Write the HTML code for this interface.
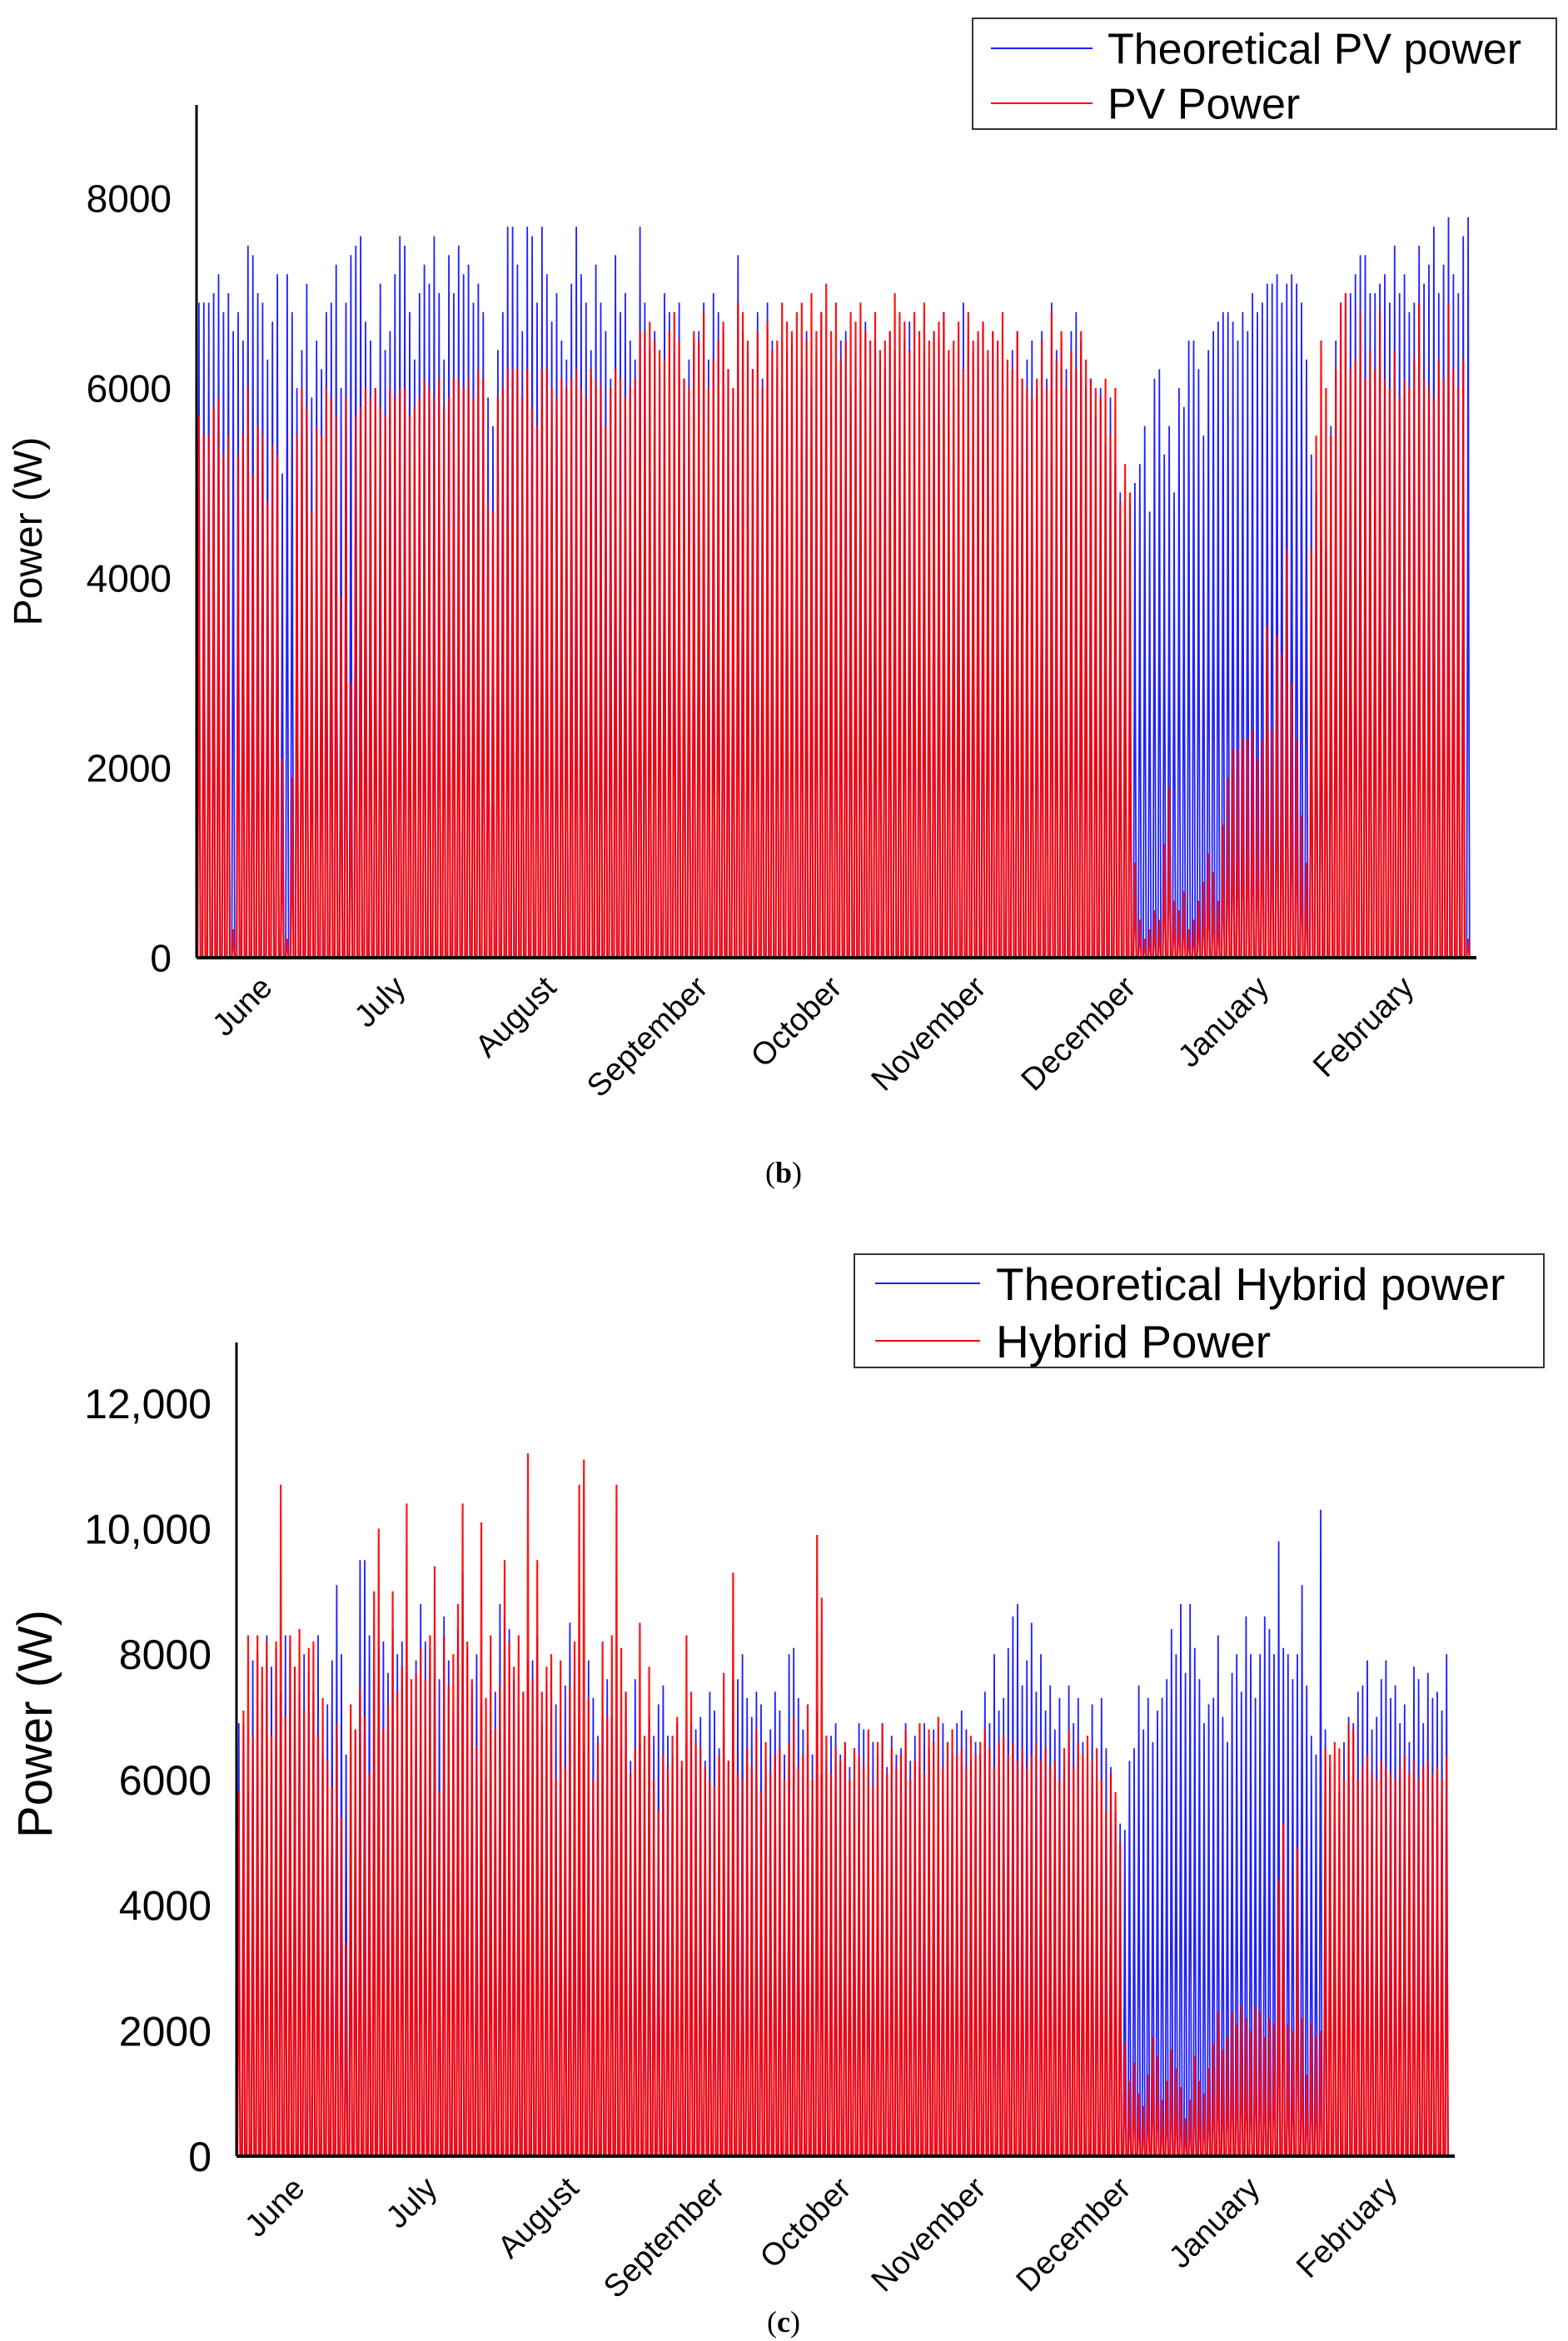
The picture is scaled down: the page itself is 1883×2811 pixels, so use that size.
<!DOCTYPE html>
<html><head><meta charset="utf-8"><style>
html,body{margin:0;padding:0;background:#fff;}
svg{display:block;font-family:"Liberation Sans",sans-serif;}
</style></head><body>
<svg id="fig" width="1883" height="2811" viewBox="0 0 1883 2811" xmlns="http://www.w3.org/2000/svg">
<g id="chartB"></g>
<text x="941" y="1420" font-family="Liberation Serif,serif" font-size="36" text-anchor="middle">(<tspan font-weight="bold">b</tspan>)</text>
<g id="chartC"></g>
<text x="941" y="2800" font-family="Liberation Serif,serif" font-size="36" text-anchor="middle">(<tspan font-weight="bold">c</tspan>)</text>
</svg>
<script>
const months = ["June","July","August","September","October","November","December","January","February"];
const ticksB = [0,2000,4000,6000,8000];
const ticksC = [0,2000,4000,6000,8000,10000,12000];
const tickLabelsC = ["0","2000","4000","6000","8000","10,000","12,000"];
// daily peak power, kW
const theoreticalPV = [
6.9,6.9,6.9,7.0,7.2,6.8,7.0,6.6,6.8,6.5,7.5,7.4,7.0,6.9,6.3,6.7,7.2,5.1,7.2,6.8,
6.0,6.4,7.1,5.9,6.5,6.2,6.8,6.9,7.3,6.0,6.9,7.4,7.5,7.6,6.7,6.5,6.0,7.1,6.4,6.6,
7.2,7.6,7.5,6.8,6.3,7.0,7.3,7.1,7.6,7.0,6.3,7.4,7.0,7.5,7.2,7.3,6.9,7.1,6.8,5.9,
5.6,6.4,6.8,7.7,7.7,7.3,6.6,7.7,7.6,6.9,7.7,7.2,6.7,7.0,6.5,6.3,7.1,7.7,7.2,6.9,
6.4,7.3,6.9,6.6,6.1,7.4,6.8,7.0,6.5,6.3,7.7,6.9,6.4,6.6,6.2,7.0,6.8,6.4,6.9,6.1,
6.3,6.5,6.6,6.9,6.3,7.0,6.8,6.6,6.2,6.0,7.4,6.6,6.4,6.2,6.8,6.1,6.9,6.5,6.2,6.0,
6.4,6.5,6.3,6.2,6.6,6.0,6.4,6.8,6.3,5.9,6.2,6.5,6.6,6.0,6.4,6.1,6.7,6.0,6.5,6.3,
6.2,6.6,6.4,6.1,6.5,6.7,6.3,6.0,6.4,6.2,6.6,6.5,6.8,6.3,6.0,6.6,6.9,6.6,6.4,6.5,
6.7,6.3,6.6,6.5,6.2,6.0,6.4,6.6,6.1,6.3,6.5,6.0,6.6,6.1,6.9,6.4,6.5,6.2,6.6,6.8,
6.5,6.0,6.1,5.7,6.0,5.4,5.9,5.2,4.9,4.6,4.8,5.0,5.2,5.6,4.7,6.1,6.2,5.3,5.6,4.9,
6.0,5.8,6.5,6.5,6.2,5.5,6.4,6.6,6.7,6.8,6.8,6.7,6.5,6.8,6.6,7.0,6.8,6.9,7.1,7.1,
7.2,6.9,7.1,7.2,7.1,6.9,6.3,5.3,4.9,4.4,4.3,5.6,6.5,6.9,7.0,7.0,7.2,7.4,7.4,7.0,
7.0,7.1,7.2,6.9,7.5,7.0,7.2,6.8,6.9,7.5,7.1,7.3,7.7,7.0,7.3,7.8,7.2,7.0,7.6,7.8];
const actualPV = [
5.7,5.5,5.5,5.8,5.9,5.3,5.5,0.3,5.3,5.5,6.0,5.1,5.6,5.5,4.8,5.4,5.3,2.1,0.2,1.9,
5.5,6.0,5.8,4.7,5.6,5.5,6.0,5.9,5.7,3.8,5.9,2.9,5.7,5.8,6.0,5.9,6.0,5.8,5.7,6.0,
5.9,6.0,6.0,5.7,5.8,5.9,6.1,6.0,5.9,6.1,5.8,5.9,6.1,6.1,6.0,6.1,5.9,6.2,6.1,4.8,
4.7,5.9,6.0,6.2,6.2,6.2,5.9,6.2,5.8,5.6,6.2,6.2,6.0,5.9,6.1,6.0,6.1,6.2,6.0,5.9,
6.2,6.1,6.0,5.6,6.0,6.2,6.1,5.9,6.0,6.1,6.6,6.6,6.7,6.5,6.4,6.3,6.6,6.8,6.5,6.1,
6.0,6.6,6.5,6.8,6.0,6.3,6.5,6.7,6.2,6.0,6.9,6.8,6.5,6.2,6.6,6.0,6.7,6.4,6.5,6.9,
6.7,6.6,6.8,6.9,6.5,7.0,6.6,6.8,7.1,6.6,6.9,6.3,6.5,6.8,6.7,6.9,6.6,6.5,6.8,6.4,
6.5,6.6,7.0,6.8,6.7,6.4,6.8,6.6,6.9,6.5,6.6,6.7,6.8,6.4,6.5,6.7,6.2,6.8,6.5,6.6,
6.7,6.4,6.6,6.5,6.8,6.3,6.2,6.6,6.1,6.0,5.9,6.1,6.5,6.0,6.8,6.3,6.6,6.0,6.4,6.2,
6.6,6.3,6.1,6.0,5.9,6.1,5.5,6.0,4.8,5.2,4.9,1.0,0.4,0.2,0.3,0.5,0.4,1.2,1.8,0.6,
0.5,0.7,0.3,0.4,0.6,0.8,1.1,0.9,0.6,1.4,1.9,2.2,2.2,2.3,2.3,2.4,2.1,2.3,3.5,2.4,
3.4,3.2,4.3,2.9,2.3,1.5,1.0,4.3,5.5,6.5,6.0,5.5,6.2,6.9,7.0,6.2,6.3,6.8,6.1,6.4,
6.2,6.8,6.1,6.0,6.4,5.9,6.1,6.0,6.3,6.9,6.1,6.0,5.9,6.3,6.1,6.9,6.2,6.0,6.3,0.2];
const theoreticalHybrid = [
6.9,6.9,5.8,7.9,8.0,7.3,8.3,7.8,8.1,7.4,8.3,8.2,7.8,7.4,8.0,7.7,7.4,8.3,6.4,7.2,
7.9,9.1,8.0,6.4,6.8,6.8,9.5,9.5,8.3,7.7,8.1,8.2,7.7,8.4,8.0,8.2,7.7,7.2,7.9,8.8,
8.2,8.1,7.7,7.6,8.6,7.9,7.1,8.4,9.3,8.1,7.5,8.0,7.2,6.0,6.8,7.4,8.8,8.6,8.4,7.6,
7.1,7.4,7.9,7.9,8.3,6.9,7.5,7.7,7.2,6.7,7.5,8.5,7.8,7.0,6.5,7.9,7.3,6.7,7.0,7.6,
7.0,6.9,6.5,7.4,6.3,7.6,6.6,6.2,7.0,6.7,7.2,7.5,6.7,6.4,6.9,6.2,6.6,6.9,6.8,7.0,
6.3,7.4,7.1,6.5,6.8,6.3,7.6,7.6,8.0,7.3,7.0,7.4,7.2,6.3,6.8,7.4,7.1,6.4,8.0,8.1,
7.3,6.8,6.6,6.4,7.1,6.1,6.3,6.7,6.9,6.4,6.6,6.2,6.5,6.9,6.8,6.0,6.6,6.4,6.9,6.2,
6.7,6.4,6.5,6.9,6.3,6.7,6.2,6.9,6.5,6.8,6.3,6.9,6.6,6.4,6.9,7.1,6.8,6.3,6.6,6.4,
7.4,6.9,8.0,7.1,7.3,8.1,8.6,8.8,7.5,7.9,8.5,7.4,8.0,7.1,7.5,6.8,7.3,6.2,7.5,6.9,
7.3,6.6,6.4,7.2,5.9,7.3,6.5,6.2,5.5,5.3,5.2,6.3,6.5,7.5,6.8,7.3,6.6,7.1,7.3,7.6,
8.4,8.0,8.8,7.7,8.8,8.1,7.6,6.9,7.2,7.3,8.3,7.0,6.6,7.7,8.0,7.4,8.6,8.0,7.3,8.0,
8.6,8.4,8.0,9.8,8.1,8.0,7.6,8.0,9.1,7.5,6.7,6.4,10.3,6.8,6.2,5.3,5.8,6.6,7.0,6.9,
7.4,7.5,7.9,6.8,7.0,7.6,7.9,7.3,7.5,6.9,7.2,6.6,7.8,7.6,6.9,7.7,7.3,7.4,7.1,8.0];
const actualHybrid = [
5.8,7.1,8.3,6.7,8.3,7.8,8.2,6.7,8.2,10.7,7.0,8.3,7.8,8.4,7.1,8.1,8.2,6.7,7.3,6.3,
5.9,6.9,5.4,3.4,7.2,6.8,7.5,7.0,6.1,9.0,10.0,6.8,7.2,9.0,7.4,7.8,10.4,7.6,7.7,8.1,
7.6,8.3,9.4,5.8,8.3,7.5,8.0,8.8,10.4,8.2,7.6,6.5,10.1,7.3,8.3,6.8,7.5,9.5,8.2,7.8,
8.3,7.4,11.2,7.6,9.5,7.4,7.8,8.0,6.0,7.9,6.2,7.5,8.2,10.7,11.1,7.3,6.0,6.6,8.2,7.0,
8.3,10.7,8.1,7.4,6.1,6.5,8.5,6.7,7.8,6.0,5.5,6.4,6.2,6.7,7.0,6.3,8.3,7.4,6.6,6.5,
6.2,6.0,5.9,6.4,7.7,6.3,9.3,6.1,6.0,6.5,6.2,6.8,5.8,6.6,6.1,6.4,6.5,6.0,6.6,7.0,
6.2,6.4,7.2,6.0,9.9,8.9,6.7,6.1,6.5,6.3,6.6,6.0,6.5,6.4,6.2,6.8,5.9,6.6,6.9,6.1,
6.5,6.2,6.4,6.8,6.0,6.3,6.9,6.1,6.8,6.6,7.0,6.2,6.6,6.8,6.4,6.5,6.2,6.7,6.4,6.6,
6.8,6.5,6.2,6.6,6.7,6.4,6.6,6.3,6.5,6.2,6.4,6.6,6.3,6.5,6.2,6.3,6.0,6.5,6.8,6.2,
6.6,6.4,6.7,6.3,6.5,6.0,5.5,6.1,5.8,5.0,1.8,1.2,1.5,1.0,0.8,1.3,1.9,1.6,0.9,1.2,
1.7,1.4,1.1,0.6,0.9,1.6,1.2,1.0,1.4,1.8,2.3,1.7,1.9,2.3,2.1,2.4,2.2,2.0,2.4,2.3,
1.9,2.2,2.1,4.4,5.3,2.1,2.0,4.9,2.2,1.3,2.1,1.9,2.0,6.5,6.4,6.6,6.5,6.0,6.9,6.8,
6.0,6.2,6.4,6.1,6.0,6.3,6.2,6.1,6.0,6.2,6.4,6.1,6.3,6.0,6.2,6.3,6.1,6.2,6.0,6.4];

const NS="http://www.w3.org/2000/svg";
function mk(parent,tag,attrs,text){const e=document.createElementNS(NS,tag);for(const k in attrs)e.setAttribute(k,attrs[k]);if(text!==undefined)e.textContent=text;parent.appendChild(e);return e;}

function spikes(vals,xf,yf,dayW){
  let d="";
  vals.forEach((v,i)=>{
    const x0=xf(i), xm=x0+dayW*0.5;
    d+=`M${(x0+dayW*0.2).toFixed(1)},${yf(0)} L${(xm-0.6).toFixed(1)},${yf(v*1000*0.55).toFixed(1)} L${xm.toFixed(1)},${yf(v*1000).toFixed(1)} L${(xm+0.6).toFixed(1)},${yf(v*1000*0.5).toFixed(1)} L${(x0+dayW*0.8).toFixed(1)},${yf(0)} `;
  });
  return d;
}

function drawChart(g,cfg){
  const n=cfg.blue.length;
  const dayW=(cfg.dataEnd-cfg.left)/n;
  const xf=i=>cfg.left+i*dayW;
  const yf=v=>cfg.y0-(v/cfg.tickStep)*cfg.stepPx;
  const pb=mk(g,"path",{d:spikes(cfg.blue,xf,yf,dayW),fill:"none",stroke:"#2020ff","stroke-width":"1.8"});
  
  
  const pr=mk(g,"path",{d:spikes(cfg.red,xf,yf,dayW),fill:"none",stroke:"#ff0000","stroke-width":"2.2","stroke-opacity":"0.92"});
  
  
  const ya=mk(g,"line",{x1:cfg.left,y1:cfg.top,x2:cfg.left,y2:cfg.y0,stroke:"#000","stroke-width":"3"});
  
  
  const xa=mk(g,"line",{x1:cfg.left,y1:cfg.y0,x2:cfg.axisEnd,y2:cfg.y0,stroke:"#000","stroke-width":"4"});
  
  
  cfg.ticks.forEach((t,i)=>{
    const tl=mk(g,"text",{x:cfg.left-30,y:yf(t)+cfg.tickFont*0.36,"font-size":cfg.tickFont,"text-anchor":"end"},cfg.tickLabels[i]);
    
    
  });
  months.forEach((m,i)=>{
    const x=cfg.monthX[i],y=cfg.monthY;
    const ml=mk(g,"text",{x:x,y:y,"font-size":"38","text-anchor":"end",transform:`rotate(-45 ${x} ${y})`},m);
    
    
  });
  const yt=mk(g,"text",{x:cfg.titleX,y:cfg.titleY,"font-size":cfg.titleFont,"text-anchor":"middle",transform:`rotate(-90 ${cfg.titleX} ${cfg.titleY})`},"Power (W)");
  
  
  const L=cfg.legend;
  const lg=mk(g,"g",{});
  
  
  mk(lg,"rect",{x:L.x,y:L.y,width:L.w,height:L.h,fill:"#fff",stroke:"#333","stroke-width":"2"});
  const e1=mk(lg,"line",{x1:L.lx1,x2:L.lx2,y1:L.r1,y2:L.r1,stroke:"#2020ff","stroke-width":"2"});
  
  
  const t1=mk(lg,"text",{x:L.tx,y:L.r1+L.f*0.36,"font-size":L.f},L.t1);
  
  
  const e2=mk(lg,"line",{x1:L.lx1,x2:L.lx2,y1:L.r2,y2:L.r2,stroke:"#ff0000","stroke-width":"2"});
  
  
  const t2=mk(lg,"text",{x:L.tx,y:L.r2+L.f*0.36,"font-size":L.f},L.t2);
  
  
}

drawChart(document.getElementById("chartB"),{
  blue:theoreticalPV,red:actualPV,left:236,top:126,y0:1150,axisEnd:1773,dataEnd:1766,
  tickStep:2000,stepPx:228,ticks:ticksB,tickLabels:ticksB.map(String),tickFont:46,
  monthX:[329,489,670,852,1013,1186,1366,1526,1700],monthY:1188,
  titleX:50,titleY:638,titleFont:48,
  legend:{x:1168,y:22,w:701,h:133,lx1:1190,lx2:1312,tx:1330,r1:58,r2:124,f:52,t1:"Theoretical PV power",t2:"PV Power"}
});
drawChart(document.getElementById("chartC"),{
  blue:theoreticalHybrid,red:actualHybrid,left:284,top:1612,y0:2589,axisEnd:1747,dataEnd:1740,
  tickStep:2000,stepPx:150.7,ticks:ticksC,tickLabels:tickLabelsC,tickFont:50,
  monthX:[368,527,697,872,1024,1186,1360,1515,1680],monthY:2630,
  titleX:62,titleY:2070,titleFont:58,
  legend:{x:1026,y:1506,w:828,h:136,lx1:1051,lx2:1177,tx:1196,r1:1541,r2:1610,f:55,t1:"Theoretical Hybrid power",t2:"Hybrid Power"}
});
</script>
</body></html>
